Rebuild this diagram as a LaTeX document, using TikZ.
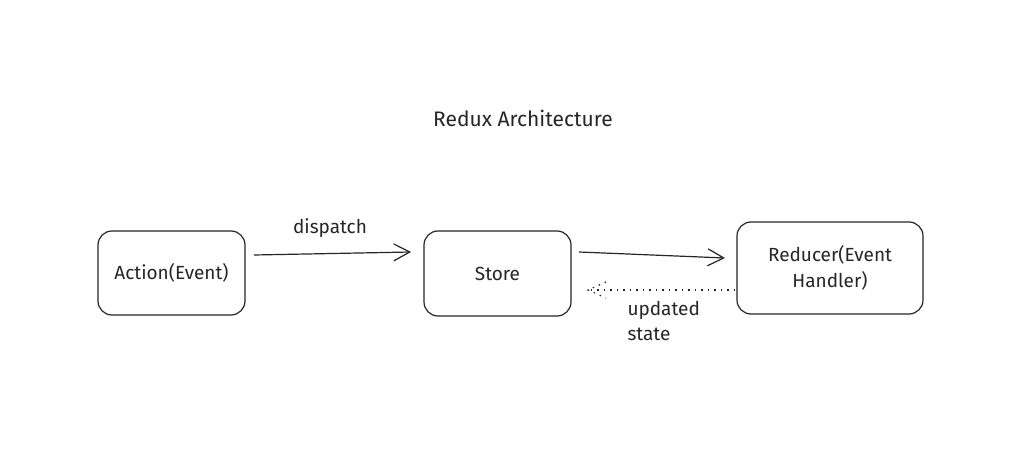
\documentclass[tikz,border=0pt]{standalone}
\usepackage{fontspec}
\setmainfont{Fira Sans}
\usetikzlibrary{arrows.meta}
\begin{document}
\begin{tikzpicture}[x=1pt,y=-1pt,
  box/.style={draw=black!85,line width=1.2pt,rounded corners=14pt,fill=white,align=center,text=black!85,font=\fontsize{19}{26}\selectfont},
  lbl/.style={font=\fontsize{19}{25}\selectfont,align=left,text=black!85},
  conn/.style={draw=black!85,line width=1.2pt,-{Straight Barb[length=16pt,width=17pt,line width=1.2pt]}},
  dconn/.style={draw=black!85,line width=1.2pt,dash pattern=on 1.5pt off 5pt}]
\useasboundingbox[fill=white] (0,0) rectangle (1033,462);
\node[lbl,font=\fontsize{21}{25}\selectfont] (title) at (523,118) {Redux Architecture};
\node[box,minimum width=147pt,minimum height=84pt] (action) at (171.5,273) {Action(Event)};
\node[box,minimum width=147pt,minimum height=85pt] (store) at (497.5,273.5) {Store};
\node[box,minimum width=186pt,minimum height=92pt] (reducer) at (830,268) {Reducer(Event\\ Handler)};
\coordinate (a1) at (254,255);
\coordinate (a2) at (411,252);
\coordinate (s1) at (579,252);
\coordinate (s2) at (725,258);
\coordinate (r1) at (735,290);
\coordinate (r2) at (588,290);
\coordinate (h1) at (606,282);
\coordinate (h2) at (606,298);
\draw[conn] (a1) -- (a2);
\node[lbl] (disp) at (330,228) {dispatch};
\draw[conn] (s1) -- (s2);
\draw[dconn] (r1) -- (r2);
\draw[dconn] (h1) -- (r2) -- (h2);
\node[lbl,anchor=north west] (upd) at (624,298) {updated\\state};
\end{tikzpicture}
\end{document}
